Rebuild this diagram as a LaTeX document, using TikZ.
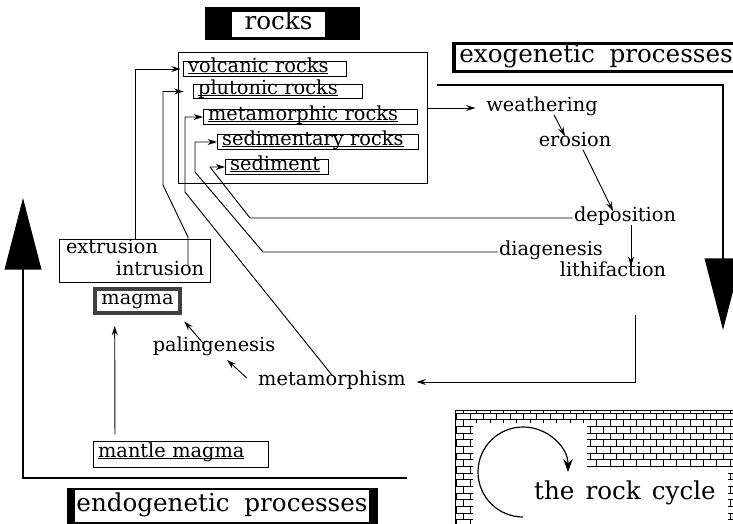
\documentclass[tikz,border=0pt]{standalone}
\usepackage{fontspec}
\setmainfont{DejaVu Serif}
\usepackage{tikz}
\usetikzlibrary{arrows.meta, positioning, fit, calc, patterns}
\pgfdeclarelayer{background}
\pgfsetlayers{background,main}
\newlength{\ubarlen}
\newcommand{\Ubar}[1]{\settowidth{\ubarlen}{#1}\rlap{\rule[-0.8pt]{\ubarlen}{0.6pt}}#1}
\newcommand{\Lbl}{\fontsize{16.5}{20}\selectfont}
\newcommand{\Ttl}{\fontsize{21}{25}\selectfont}
\tikzset{
    proc/.style={font=\Lbl, inner sep=1pt, text height=1.45ex, text depth=.35ex},
    rockbox/.style={proc, draw, line width=0.8pt, inner xsep=4pt, inner ysep=1.5pt, align=left},
    titlebox/.style={font=\Ttl, fill=white, inner sep=1pt, minimum height=0.74cm, text height=1.7ex, text depth=0ex},
    link/.style={line width=0.8pt, -{Stealth[length=8pt, width=5pt]}},
    bigarrow/.style={line width=1.3pt, -{Triangle[length=2.15cm, width=1.1cm]}},
}

\begin{document}
\begin{tikzpicture}[x=0.03cm, y=-0.03cm]
    \useasboundingbox (0,0) rectangle (733,523);

    % titles
    \node[titlebox, minimum width=2.79cm] (rockstitle) at (278.5,24.5) {rocks};
    \node[titlebox, minimum width=8.4cm] (exotitle) at (596,57.5) {exogenetic\hspace{0.6em}processes};
    \node[titlebox, minimum width=8.7cm, minimum height=0.95cm] (endotitle) at (222,506) {endogenetic\hspace{0.6em}processes};
    \begin{pgfonlayer}{background}
        \fill (205,7) rectangle (360,40);
        \fill (452,42) rectangle (745,73);
        \fill (67,488) rectangle (378,530);
    \end{pgfonlayer}

    % rocks
    \node[rockbox, anchor=west, text width=4.6cm] (volcanic) at (183,69) {\Ubar{volcanic rocks}};
    \node[rockbox, anchor=west, text width=4.78cm] (plutonic) at (193,91.5) {\Ubar{plutonic rocks}};
    \node[rockbox, anchor=west, text width=6.15cm] (metamorphic) at (203,117) {\Ubar{metamorphic rocks}};
    \node[rockbox, anchor=west, text width=5.75cm] (sedimentary) at (217,142) {\Ubar{sedimentary rocks}};
    \node[rockbox, anchor=west, text width=2.8cm] (sediment) at (225,167) {\Ubar{sediment}};
    \node[draw, line width=0.8pt, inner sep=0pt, fit={(178,52) (427,183)}] (rocks) {};

    % magma side
    \node[proc] (extrusion) at (112,250) {extrusion};
    \node[proc] (intrusion) at (160,272) {intrusion};
    \node[draw, line width=0.8pt, inner xsep=4pt, inner ysep=3pt, fit=(extrusion)(intrusion)] (extrbox) {};
    \node[proc, draw=black!75, line width=4pt, fill=white, minimum width=2.55cm, minimum height=0.72cm] (magma) at (137.5,301) {magma};
    \node[proc] (palingenesis) at (214,348) {palingenesis};
    \node[proc] (metamorphism) at (332,382) {metamorphism};
    \node[rockbox, anchor=west, text width=4.98cm, minimum height=0.78cm] (mantle) at (93,454) {\Ubar{mantle magma}};

    % exogenetic side
    \node[proc] (weathering) at (542,108) {weathering};
    \node[proc] (erosion) at (575,143) {erosion};
    \node[proc] (deposition) at (625,218) {deposition};
    \node[proc] (diagenesis) at (551,252) {diagenesis};
    \node[proc] (lithifaction) at (613,273) {lithifaction};

    % into the rocks box
    \draw[link, shorten >=2pt] (extrbox.north) |- (volcanic.west);
    \draw[link, shorten >=8pt] ($(intrusion.north)+(28,0)$) -- ++(0,-28) -- (163,185) |- (plutonic.west);
    \draw[link] (metamorphism.north) -- (185,192) |- (metamorphic.west);
    \draw[link] (diagenesis.west) -- (263,252) -- (195,172) |- (sedimentary.west);
    \draw[link] (deposition.west) -- (250,218) -- (210,167) -- (sediment.west);

    % exogenetic chain
    \draw[link, shorten >=8pt] (rocks.east |- weathering.west) -- (weathering.west);
    \draw[link] ($(weathering.south)+(12,0)$) -- ($(erosion.north)+(-10,0)$);
    \draw[link] ($(erosion.south)+(8,0)$) -- ($(deposition.north)+(-12,0)$);
    \draw[link] ($(deposition.south)+(6,0)$) -- ($(lithifaction.north)+(18,0)$);
    \draw[link, shorten >=8pt] ($(lithifaction.south)+(22,35)$) |- (metamorphism.east);

    % endogenetic chain
    \draw[link] ($(metamorphism.west)+(-10,-4)$) -- ($(palingenesis.south)+(13,5)$);
    \draw[link] ($(palingenesis.north)+(-11,2)$) -- ($(magma.south east)+(2,6)$);
    \draw[link, shorten <=5pt, shorten >=9pt] ($(mantle.north west)+(22,0)$) -- ($(magma.south west)+(22,0)$);

    % big process arrows
    \coordinate (exostart) at (437,85);
    \coordinate (exoend) at (723,330);
    \draw[bigarrow] (exostart) -| (exoend);
    \coordinate (endostart) at (407,478);
    \coordinate (endoend) at (23,198);
    \draw[bigarrow] (endostart) -| (endoend);

    % the rock cycle
    \fill[pattern=bricks, even odd rule] (455,410) rectangle (745,535)
        (473,423) -- (587,423) -- (587,467) -- (728,467) -- (728,535) -- (473,535) -- cycle;
    \draw[line width=0.6pt] (455,535) |- (745,410);
    \node[font=\Ttl, inner sep=1pt] (cycle) at (625,493) {the\hspace{0.45em}rock\hspace{0.45em}cycle};
    \coordinate (cyclestart) at (523,517);
    \draw[line width=1pt, -{Stealth[length=11pt, width=8pt]}] (cyclestart) arc[start angle=270, end angle=0, radius=1.35cm];
\end{tikzpicture}
\end{document}
